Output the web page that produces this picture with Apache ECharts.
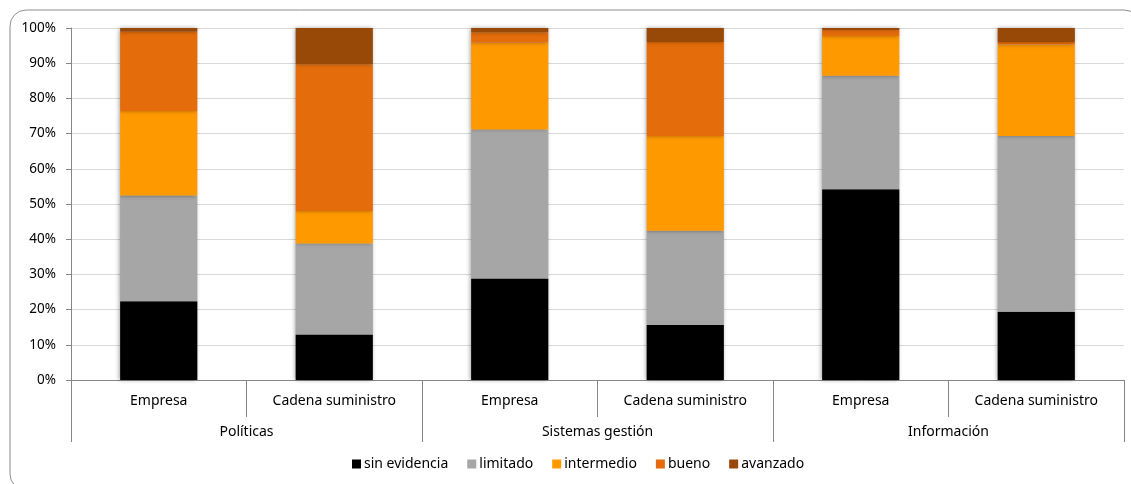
<!DOCTYPE html>
<html>
<head>
<meta charset="utf-8">
<script src="https://cdn.jsdelivr.net/npm/echarts@6/dist/echarts.min.js"></script>
<style>html,body{margin:0;padding:0;background:#fff;}#c{width:1131px;height:484px;}</style>
</head>
<body>
<div id="c"></div>
<script>
const categories = ['Empresa', 'Cadena suministro', 'Empresa', 'Cadena suministro', 'Empresa', 'Cadena suministro'];
const groups = ['Políticas', 'Sistemas gestión', 'Información'];
const sinEvidencia = [22.4, 12.9, 28.8, 15.6, 54.2, 19.4];
const limitado     = [30.0, 25.9, 42.4, 26.8, 32.2, 49.9];
const intermedio   = [24.0,  9.2, 24.7, 26.9, 11.3, 26.0];
const bueno        = [22.5, 41.7,  2.9, 26.7,  1.7,  0.7];
const avanzado     = [ 1.1, 10.3,  1.2,  4.0,  0.6,  4.0];
const seriesNames = ['sin evidencia', 'limitado', 'intermedio', 'bueno', 'avanzado'];
const yTicks = [0, 10, 20, 30, 40, 50, 60, 70, 80, 90, 100];

const colors = ['#000000', '#A6A6A6', '#FF9900', '#E46C0A', '#984807'];
const FONT = 'Noto Sans';
const chart = echarts.init(document.getElementById('c'));
const seriesData = [sinEvidencia, limitado, intermedio, bueno, avanzado];
chart.setOption({
  animation: false,
  color: colors,
  grid: { left: 71, right: 7, top: 28, bottom: 104 },
  graphic: [{
    type: 'rect', silent: true, z: -10,
    shape: { x: 10, y: 10, width: 1130, height: 480, r: 16 },
    style: { fill: 'none', stroke: '#8C8C8C', lineWidth: 1 }
  }],
  legend: {
    bottom: 8, left: 347,
    itemWidth: 9, itemHeight: 9, itemGap: 19,
    icon: 'rect',
    textStyle: { fontFamily: FONT, fontSize: 14, color: '#000', padding: [0, 0, 0, -2] },
    data: seriesNames
  },
  xAxis: [{
    type: 'category', data: categories, position: 'bottom',
    axisLine: { lineStyle: { color: '#868686' } },
    axisTick: { show: true, interval: 0, length: 37, lineStyle: { color: '#868686' } },
    axisLabel: { interval: 0, margin: 14, fontFamily: FONT, fontSize: 14, color: '#000' }
  }, {
    type: 'category', data: groups, position: 'bottom',
    axisLine: { show: false },
    axisTick: { show: true, interval: 0, length: 62, lineStyle: { color: '#868686' } },
    axisLabel: { interval: 0, margin: 45, fontFamily: FONT, fontSize: 14, color: '#000' }
  }],
  yAxis: {
    type: 'value', min: 0, max: 100, interval: 10,
    axisLine: { show: true, lineStyle: { color: '#868686' } },
    axisTick: { show: true, length: 5, lineStyle: { color: '#868686' } },
    splitLine: { lineStyle: { color: '#D9D9D9' } },
    axisLabel: { formatter: v => yTicks.includes(v) ? v + '%' : '', margin: 15, fontFamily: FONT, fontSize: 13.5, color: '#000' }
  },
  series: seriesNames.map((n, i) => ({
    name: n, type: 'bar', stack: 'total', xAxisIndex: 0,
    barWidth: '44%',
    data: seriesData[i],
    itemStyle: { color: colors[i], shadowColor: 'rgba(0,0,0,0.35)', shadowBlur: 4, shadowOffsetX: -1 }
  }))
});
</script>
</body>
</html>
